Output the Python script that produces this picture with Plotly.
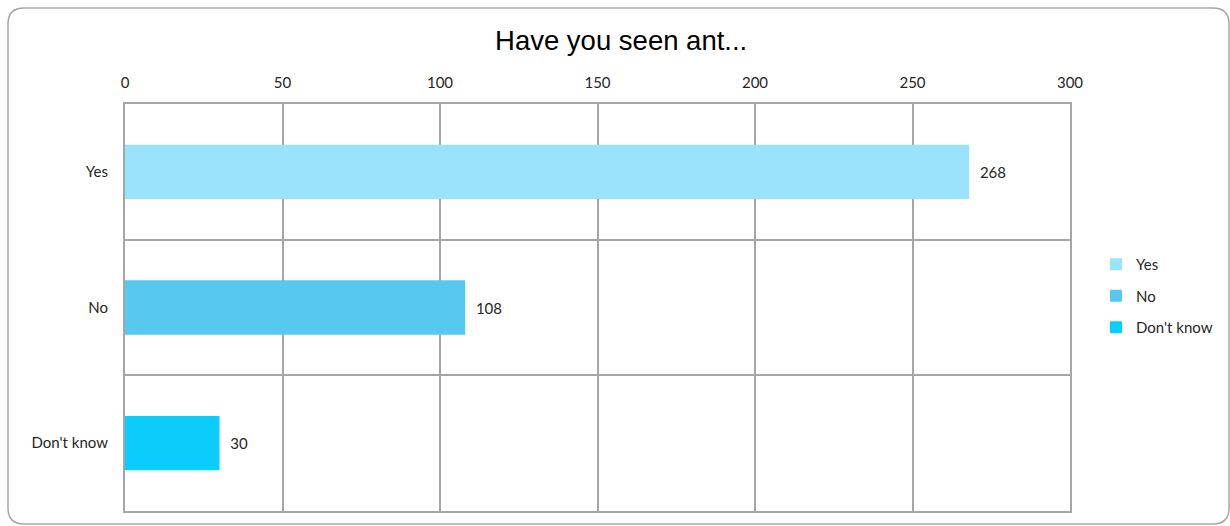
import plotly.graph_objects as go

categories = ["Yes", "No", "Don't know"]
values = [268, 108, 30]
colors = ["#99E4FC", "#57C8F0", "#0ACDFE"]
x_ticks = [0, 50, 100, 150, 200, 250, 300]

FONT = "Lato, Noto Sans, sans-serif"

fig = go.Figure()
for cat, val, col in zip(categories, values, colors):
    fig.add_trace(go.Bar(
        y=[cat], x=[val], orientation="h", name=cat,
        marker=dict(color=col, line=dict(width=0)),
        width=0.4, text=["  " + str(val)], textposition="outside",
        textfont=dict(family=FONT, size=15, color="#262626"),
        cliponaxis=False, legendgroup=cat,
    ))

W, H = 1230, 526
L, R, T, B = 125, 160, 104, 15
pw, ph = W - L - R, H - T - B

def px(x):
    return (x - L) / pw

def py(y):
    return (H - B - y) / ph

x0, x1, y0, y1, r = 8, 1229, 8, 524, 16
path = (f"M {px(x0 + r)} {py(y0)} L {px(x1 - r)} {py(y0)} "
        f"Q {px(x1)} {py(y0)} {px(x1)} {py(y0 + r)} "
        f"L {px(x1)} {py(y1 - r)} Q {px(x1)} {py(y1)} {px(x1 - r)} {py(y1)} "
        f"L {px(x0 + r)} {py(y1)} Q {px(x0)} {py(y1)} {px(x0)} {py(y1 - r)} "
        f"L {px(x0)} {py(y0 + r)} Q {px(x0)} {py(y0)} {px(x0 + r)} {py(y0)} Z")

fig.update_layout(
    width=W, height=H,
    margin=dict(l=L, r=R, t=T, b=B),
    paper_bgcolor="white", plot_bgcolor="white",
    barmode="overlay",
    title=dict(text="Have you seen ant...", x=0.505, xanchor="center",
               y=1 - 40 / H, yanchor="middle",
               font=dict(family="Liberation Sans, Arial, sans-serif", size=27.5, color="#000000")),
    xaxis=dict(side="top", range=[0, 300], tickvals=x_ticks,
               showgrid=True, gridcolor="#A6A6A6", gridwidth=2,
               showline=True, linecolor="#A6A6A6", linewidth=2, mirror=True,
               zeroline=False, ticks="", ticklabelstandoff=8,
               tickfont=dict(family=FONT, size=15, color="#262626")),
    yaxis=dict(categoryorder="array", categoryarray=categories, autorange="reversed",
               tickson="boundaries", showgrid=True, gridcolor="#A6A6A6", gridwidth=2,
               showline=True, linecolor="#A6A6A6", linewidth=2, mirror=True,
               ticks="", ticklabelstandoff=12,
               tickfont=dict(family=FONT, size=15, color="#262626")),
    legend=dict(xref="container", yref="container", x=1096 / W, y=1 - 248 / H,
                xanchor="left", yanchor="top",
                font=dict(family=FONT, size=15, color="#262626"),
                tracegroupgap=9, itemwidth=30, bgcolor="rgba(0,0,0,0)"),
    showlegend=True,
    shapes=[dict(type="path", xref="paper", yref="paper", path=path,
                 line=dict(color="#A6A6A6", width=1.5), fillcolor="rgba(0,0,0,0)", layer="below")],
)

fig.write_html("out.html", config={"displayModeBar": False},
               post_script="document.body.style.margin='0';")
